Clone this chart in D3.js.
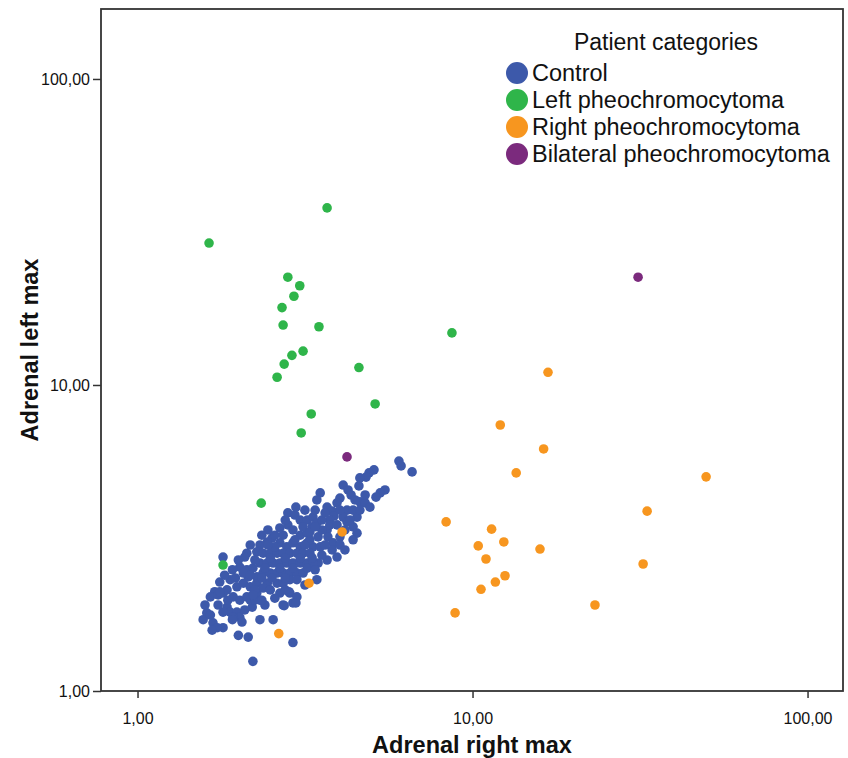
<!DOCTYPE html>
<html>
<head>
<meta charset="utf-8">
<script src="https://cdn.jsdelivr.net/npm/d3@7"></script>
<style>
  body { margin: 0; background: #fff; }
  svg text { font-family: "Liberation Sans", Arial, sans-serif; }
</style>
</head>
<body>
<div id="chart"></div>
<script>
// categories
var categories = ["Control", "Left pheochromocytoma", "Right pheochromocytoma", "Bilateral pheochromocytoma"];
var catColors = ["#3d59aa", "#2fb54a", "#f7961f", "#7b2a7d"];

// [adrenal right max, adrenal left max]
var control = [
    [6.03,5.64],[6.12,5.44],[6.60,5.20],[5.08,5.28],[4.91,5.16],[4.81,5.00],[4.61,4.97],[4.58,4.68],
    [4.11,4.71],[4.25,4.54],[4.34,4.37],[5.48,4.54],[5.30,4.44],[5.15,4.30],[3.51,4.44],[3.43,4.21],
    [4.02,4.27],[3.94,4.12],[4.61,4.15],[4.78,4.12],[4.94,3.99],[3.68,3.99],[3.81,3.87],[3.86,3.73],
    [3.75,3.62],[4.22,3.90],[4.40,3.90],[4.52,3.70],[4.11,3.70],[4.22,3.57],[2.81,3.82],[2.95,3.76],
    [3.06,3.62],[3.21,3.62],[3.34,3.70],[3.43,3.54],[3.32,3.44],[2.81,3.49],[2.91,3.36],[4.40,3.44],
    [4.52,3.28],[4.40,3.12],[3.68,3.36],[3.70,3.19],[3.83,3.05],[3.81,2.89],[3.94,2.74],[3.68,2.68],
    [3.46,2.62],[2.52,3.16],[2.44,3.07],[2.32,3.00],[2.27,2.85],[2.12,2.82],[2.09,2.74],[1.80,2.74],
    [2.66,3.05],[2.79,2.96],[2.91,3.05],[3.06,2.96],[3.21,3.05],[3.34,2.96],[3.51,2.96],[2.37,2.82],
    [2.49,2.82],[2.61,2.82],[2.72,2.82],[2.85,2.82],[2.99,2.82],[3.12,2.82],[3.27,2.82],[2.32,2.62],
    [2.44,2.62],[2.54,2.62],[2.66,2.62],[2.79,2.62],[2.91,2.62],[3.06,2.62],[3.21,2.62],[3.34,2.62],
    [2.02,2.54],[2.12,2.49],[2.21,2.52],[2.37,2.43],[2.49,2.43],[2.61,2.43],[2.72,2.43],[2.85,2.43],
    [2.99,2.43],[3.12,2.43],[3.43,2.31],[1.89,2.31],[1.98,2.19],[2.07,2.25],[2.17,2.19],[2.27,2.25],
    [2.44,2.25],[2.61,2.25],[2.72,2.25],[2.85,2.31],[1.70,2.11],[1.65,2.03],[1.74,2.06],[1.80,2.09],
    [1.85,2.14],[1.93,2.03],[2.02,1.98],[2.12,2.03],[2.27,2.09],[2.32,1.98],[2.37,2.17],[2.66,2.09],
    [2.85,2.09],[2.99,2.03],[2.72,1.91],[2.91,1.94],[1.85,1.88],[1.89,1.81],[1.98,1.81],[2.02,1.74],
    [1.93,1.74],[2.20,1.88],[1.61,1.80],[1.57,1.71],[1.68,1.67],[1.80,1.61],[1.73,1.61],[1.67,1.58],
    [1.92,1.71],[2.05,1.68],[2.32,1.71],[2.54,1.71],[2.00,1.52],[2.14,1.50],[2.91,1.44],[2.21,1.25],
    [2.57,3.23],[2.72,3.23],[3.06,3.23],[3.21,3.28],[3.46,3.19],[4.02,3.19],[4.16,3.36],[2.57,2.96],
    [3.27,3.12],[3.63,3.00],[4.02,3.00],[4.16,2.89],[2.24,2.68],[2.49,2.72],[2.76,2.72],[3.06,2.72],
    [3.32,2.72],[3.55,2.78],[2.27,2.36],[2.40,2.52],[2.66,2.52],[2.91,2.52],[3.21,2.52],[3.39,2.49],
    [2.35,2.34],[2.52,2.34],[2.76,2.34],[2.99,2.31],[3.16,2.22],[2.24,2.14],[2.49,2.14],[2.76,2.14],
    [2.57,2.01],[2.40,1.91],[2.17,1.98],[3.12,3.44],[3.27,3.31],[3.55,3.62],[3.75,3.49],[3.94,3.49],
    [4.31,3.62],[4.61,3.90],[4.46,4.21],[4.78,4.37],[4.02,3.90],[3.63,3.82],[3.39,3.90],[3.16,3.90],
    [2.97,3.99],[2.76,3.62],[2.66,3.41],[2.45,3.36],[2.35,3.23],[2.17,3.00],[2.00,2.68],[1.92,2.49],
    [1.82,2.39],[1.76,2.27],[1.86,1.98],[2.09,1.84],[1.80,1.81],[1.74,1.91],[1.65,1.77],[2.24,1.98],
    [2.35,1.98],[2.74,1.90],[2.97,1.94],[2.83,2.11],[2.14,2.36],[2.07,2.43],[1.96,2.34],[2.21,2.06],
    [2.45,3.00],[3.16,3.00],[3.55,3.36],[3.39,3.44],[2.95,3.12],[2.17,2.39],[1.76,2.11],[1.59,1.91]
];
var leftPheo = [
    [3.68,37.9],[1.635,29.1],[2.81,22.5],[3.05,21.1],[2.93,19.5],[2.70,17.9],[2.72,15.7],[3.48,15.5],
    [3.12,12.9],[2.89,12.5],[2.74,11.7],[2.61,10.6],[4.58,11.4],[5.12,8.67],[3.30,8.04],[3.08,6.97],
    [8.68,14.8],[2.34,4.11],[1.80,2.58]
];
var rightPheo = [
    [16.8,11.0],[12.1,7.40],[16.3,6.18],[13.5,5.16],[49.8,5.01],[33.2,3.87],[8.34,3.57],[11.4,3.38],
    [12.4,3.07],[10.4,2.98],[15.9,2.91],[10.97,2.70],[32.3,2.60],[12.5,2.38],[11.7,2.27],[10.6,2.15],
    [23.2,1.91],[8.87,1.80],[4.08,3.31],[3.25,2.25],[2.64,1.54]
];
var bilateralPheo = [
    [31.2,22.5],[4.22,5.82]
];

var tickValues = [1, 10, 100];
var xTitle = "Adrenal right max";
var yTitle = "Adrenal left max";
var legendTitle = "Patient categories";

var width = 848, height = 758;
var plotL = 101, plotR = 843, plotT = 9, plotB = 691;

var svg = d3.select("#chart").append("svg")
    .attr("width", width)
    .attr("height", height);

var x = d3.scaleLog()
    .domain([0.778, 127.6])
    .range([plotL, plotR]);

var y = d3.scaleLog()
    .domain([1, 169.3])
    .range([plotB, plotT]);

var fmt = function(d) { return d3.format(".2f")(d).replace(".", ","); };

// axes
var xAxis = svg.append("g")
    .attr("transform", "translate(0," + plotB + ")")
    .call(d3.axisBottom(x).tickValues(tickValues).tickFormat(fmt).tickSize(7).tickSizeOuter(0));
xAxis.select(".domain").remove();
xAxis.selectAll("line").attr("stroke", "#333").attr("stroke-width", 1.5);
xAxis.selectAll("text").style("font-size", "16px").attr("fill", "#111").attr("y", 22);

var yAxis = svg.append("g")
    .attr("transform", "translate(" + plotL + ",0)")
    .call(d3.axisLeft(y).tickValues(tickValues).tickFormat(fmt).tickSize(8).tickSizeOuter(0));
yAxis.select(".domain").remove();
yAxis.selectAll("line").attr("stroke", "#333").attr("stroke-width", 1.5);
yAxis.selectAll("text").style("font-size", "16px").attr("fill", "#111").attr("x", -11);

// frame
svg.append("rect")
    .attr("x", plotL).attr("y", plotT)
    .attr("width", plotR - plotL).attr("height", plotB - plotT)
    .attr("fill", "none").attr("stroke", "#333").attr("stroke-width", 1.8);

// points
var groups = [control, leftPheo, rightPheo, bilateralPheo];
groups.forEach(function(data, i) {
    svg.append("g").selectAll("circle")
        .data(data)
        .enter().append("circle")
        .attr("cx", function(d) { return x(d[0]); })
        .attr("cy", function(d) { return y(d[1]); })
        .attr("r", 4.8)
        .attr("fill", catColors[i]);
});

// axis titles
svg.append("text")
    .attr("x", (plotL + plotR) / 2)
    .attr("y", 753)
    .attr("text-anchor", "middle")
    .attr("font-size", "23.5px")
    .attr("font-weight", "bold")
    .attr("fill", "#111")
    .text(xTitle);

svg.append("text")
    .attr("transform", "translate(38," + ((plotT + plotB) / 2) + ") rotate(-90)")
    .attr("text-anchor", "middle")
    .attr("font-size", "23.5px")
    .attr("font-weight", "bold")
    .attr("fill", "#111")
    .text(yTitle);

// legend
var legend = svg.append("g");
legend.append("text")
    .attr("x", 666).attr("y", 50)
    .attr("text-anchor", "middle")
    .attr("font-size", "23px")
    .attr("fill", "#111")
    .text(legendTitle);

var items = legend.selectAll("g.item")
    .data(categories)
    .enter().append("g")
    .attr("transform", function(d, i) { return "translate(0," + (73 + i * 27) + ")"; });

items.append("circle")
    .attr("cx", 517).attr("cy", 0).attr("r", 11)
    .attr("fill", function(d, i) { return catColors[i]; });

items.append("text")
    .attr("x", 532).attr("y", 8)
    .attr("font-size", "23.5px")
    .attr("fill", "#111")
    .text(function(d) { return d; });
</script>
</body>
</html>
